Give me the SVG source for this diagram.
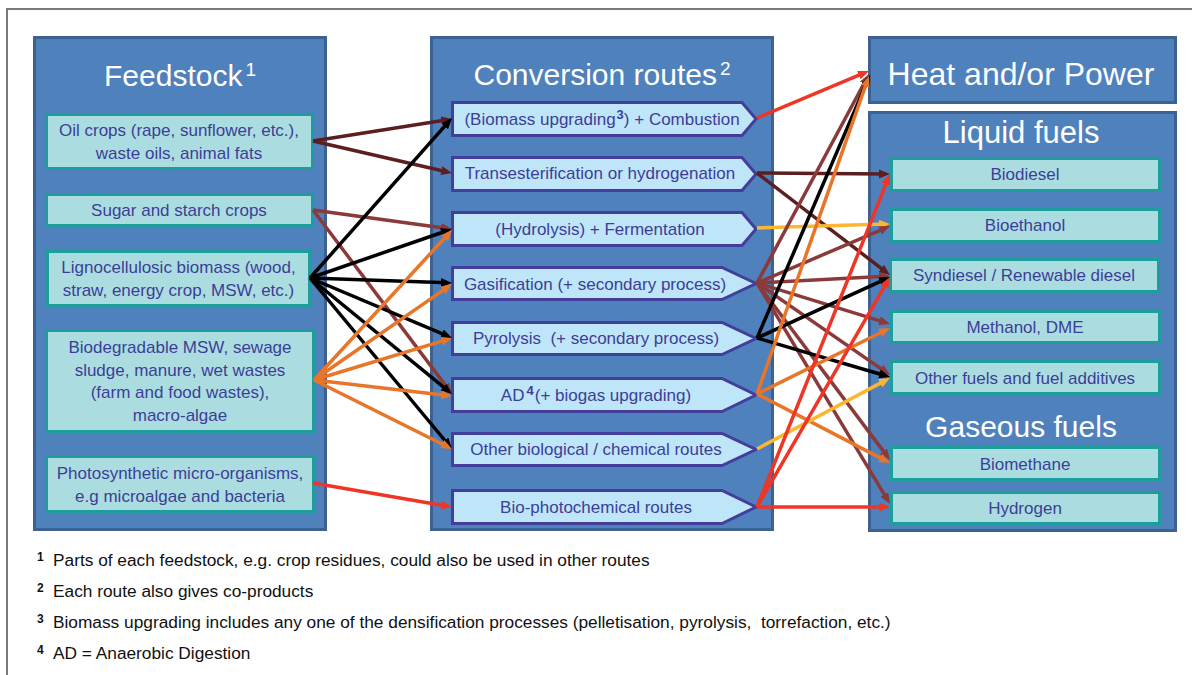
<svg xmlns="http://www.w3.org/2000/svg" width="1192" height="675" viewBox="0 0 1192 675">
<defs>
<style>
.frame{fill:#fff;stroke:#7a7a7a;stroke-width:2}
.panel{fill:#4f81bd;stroke:#3d6191;stroke-width:3}
.title{font-family:"Liberation Sans",Arial,sans-serif;fill:#fff;text-anchor:middle;font-size:30px}
.box{fill:#abdde0;stroke:#1d9e9c;stroke-width:3}
.route{fill:#bfe6f8;stroke:#433d9c;stroke-width:3;stroke-linejoin:miter}
.lbl{font-family:"Liberation Sans",Arial,sans-serif;font-size:17px;fill:#3d3d98;text-anchor:middle}
.sup{font-size:13px;font-weight:bold}
.note{font-family:"Liberation Sans",Arial,sans-serif;font-size:17.3px;fill:#111}
.nsup{font-family:"Liberation Sans",Arial,sans-serif;font-size:12px;font-weight:bold;fill:#111}
.c{fill:none;stroke-width:3.5}
.k{stroke:#000;marker-end:url(#ak)}
.m{stroke:#5c1f1f;marker-end:url(#am)}
.b{stroke:#8b3a3a;marker-end:url(#ab)}
.o{stroke:#e87528;marker-end:url(#ao)}
.r{stroke:#ee3526;marker-end:url(#ar)}
.y{stroke:#fbb733;marker-end:url(#ay)}
</style>
<marker id="ak" markerUnits="userSpaceOnUse" markerWidth="12" markerHeight="10" refX="6.5" refY="4.5" orient="auto"><path d="M0,0 L11,4.5 L0,9 z" fill="#000"/></marker>
<marker id="am" markerUnits="userSpaceOnUse" markerWidth="12" markerHeight="10" refX="6.5" refY="4.5" orient="auto"><path d="M0,0 L11,4.5 L0,9 z" fill="#5c1f1f"/></marker>
<marker id="ab" markerUnits="userSpaceOnUse" markerWidth="12" markerHeight="10" refX="6.5" refY="4.5" orient="auto"><path d="M0,0 L11,4.5 L0,9 z" fill="#8b3a3a"/></marker>
<marker id="ao" markerUnits="userSpaceOnUse" markerWidth="12" markerHeight="10" refX="6.5" refY="4.5" orient="auto"><path d="M0,0 L11,4.5 L0,9 z" fill="#e87528"/></marker>
<marker id="ar" markerUnits="userSpaceOnUse" markerWidth="12" markerHeight="10" refX="6.5" refY="4.5" orient="auto"><path d="M0,0 L11,4.5 L0,9 z" fill="#ee3526"/></marker>
<marker id="ay" markerUnits="userSpaceOnUse" markerWidth="12" markerHeight="10" refX="6.5" refY="4.5" orient="auto"><path d="M0,0 L11,4.5 L0,9 z" fill="#fbb733"/></marker>
</defs>

<rect class="frame" x="7" y="9" width="1200" height="700"/>

<g id="panel-feedstock">
<rect class="panel" x="34.5" y="37.5" width="291" height="492"/>
<text class="title" x="180" y="86">Feedstock<tspan font-size="19" dx="3" dy="-10">1</tspan></text>
</g>
<g id="panel-conversion">
<rect class="panel" x="431.5" y="37.5" width="341" height="492"/>
<text class="title" x="602" y="85">Conversion routes<tspan font-size="19" dx="3" dy="-10">2</tspan></text>
</g>
<g id="panel-heat-power">
<rect class="panel" x="869.5" y="37.5" width="306" height="65"/>
<text class="title" x="1021" y="85" style="font-size:32px">Heat and/or Power</text>
</g>
<g id="panel-fuels">
<rect class="panel" x="869.5" y="112.5" width="306" height="418"/>
<text class="title" x="1021" y="143" style="font-size:31px">Liquid fuels</text>
<text class="title" x="1021" y="437">Gaseous fuels</text>
</g>

<g id="fs-oil">
<rect class="box" x="46.5" y="114.5" width="266" height="54"/>
<text class="lbl" x="179" y="136">Oil crops (rape, sunflower, etc.),</text>
<text class="lbl" x="179" y="159">waste oils, animal fats</text>
</g>
<g id="fs-sugar">
<rect class="box" x="46.5" y="194.5" width="266" height="31"/>
<text class="lbl" x="179" y="216">Sugar and starch crops</text>
</g>
<g id="fs-ligno">
<rect class="box" x="47.5" y="251.5" width="262" height="54"/>
<text class="lbl" x="178.5" y="273">Lignocellulosic biomass (wood,</text>
<text class="lbl" x="178.5" y="296">straw, energy crop, MSW, etc.)</text>
</g>
<g id="fs-biodeg">
<rect class="box" x="46.5" y="330.5" width="267" height="101"/>
<text class="lbl" x="180" y="353">Biodegradable MSW, sewage</text>
<text class="lbl" x="180" y="376">sludge, manure, wet wastes</text>
<text class="lbl" x="180" y="398">(farm and food wastes),</text>
<text class="lbl" x="180" y="421">macro-algae</text>
</g>
<g id="fs-photo">
<rect class="box" x="46.5" y="456.5" width="267" height="55"/>
<text class="lbl" x="180" y="479">Photosynthetic micro-organisms,</text>
<text class="lbl" x="180" y="502">e.g microalgae and bacteria</text>
</g>

<g id="rt-combustion">
<polygon class="route" points="452.5,102.5 742,102.5 756,119 742,135.5 452.5,135.5"/>
<text class="lbl" x="602" y="125">(Biomass upgrading<tspan class="sup" dx="1" dy="-6">3</tspan><tspan dy="6">) + Combustion</tspan></text>
</g>
<g id="rt-transest">
<polygon class="route" points="452.5,157.5 742,157.5 756,174 742,190.5 452.5,190.5"/>
<text class="lbl" x="600" y="179">Transesterification or hydrogenation</text>
</g>
<g id="rt-ferment">
<polygon class="route" points="452.5,212.5 742,212.5 756,229 742,245.5 452.5,245.5"/>
<text class="lbl" x="600" y="235">(Hydrolysis) + Fermentation</text>
</g>
<g id="rt-gasif">
<polygon class="route" points="452.5,267.5 722,267.5 756,283.5 722,299.5 452.5,299.5"/>
<text class="lbl" x="595" y="290">Gasification (+ secondary process)</text>
</g>
<g id="rt-pyro">
<polygon class="route" points="452.5,322.5 722,322.5 756,338.5 722,354.5 452.5,354.5"/>
<text class="lbl" x="596" y="344" xml:space="preserve">Pyrolysis  (+ secondary process)</text>
</g>
<g id="rt-ad">
<polygon class="route" points="452.5,378.5 722,378.5 756,395 722,411.5 452.5,411.5"/>
<text class="lbl" x="596" y="401">AD<tspan class="sup" dx="2" dy="-6">4</tspan><tspan dx="1" dy="6">(+ biogas upgrading)</tspan></text>
</g>
<g id="rt-otherbio">
<polygon class="route" points="452.5,433.5 722,433.5 756,449.5 722,465.5 452.5,465.5"/>
<text class="lbl" x="596" y="455">Other biological / chemical routes</text>
</g>
<g id="rt-photochem">
<polygon class="route" points="452.5,490.5 722,490.5 756,507 722,523.5 452.5,523.5"/>
<text class="lbl" x="596" y="513">Bio-photochemical routes</text>
</g>

<g id="fu-biodiesel">
<rect class="box" x="891.5" y="158.5" width="268" height="32"/>
<text class="lbl" x="1025" y="180">Biodiesel</text>
</g>
<g id="fu-bioethanol">
<rect class="box" x="891.5" y="209.5" width="268" height="32"/>
<text class="lbl" x="1025" y="231">Bioethanol</text>
</g>
<g id="fu-syndiesel">
<rect class="box" x="890.5" y="259.5" width="268" height="32"/>
<text class="lbl" x="1024" y="281">Syndiesel / Renewable diesel</text>
</g>
<g id="fu-methanol">
<rect class="box" x="891.5" y="311.5" width="268" height="31"/>
<text class="lbl" x="1025" y="333">Methanol, DME</text>
</g>
<g id="fu-other">
<rect class="box" x="891.5" y="361.5" width="268" height="32"/>
<text class="lbl" x="1025" y="384">Other fuels and fuel additives</text>
</g>
<g id="fu-biomethane">
<rect class="box" x="891.5" y="447.5" width="268" height="32"/>
<text class="lbl" x="1025" y="470">Biomethane</text>
</g>
<g id="fu-hydrogen">
<rect class="box" x="891.5" y="492.5" width="268" height="31"/>
<text class="lbl" x="1025" y="514">Hydrogen</text>
</g>

<g id="connectors">
<line class="c m" x1="313" y1="141" x2="447.6" y2="119.7"/>
<line class="c m" x1="313" y1="141" x2="447.6" y2="172"/>
<line class="c b" x1="313" y1="210" x2="447.5" y2="228.4"/>
<line class="c b" x1="313" y1="210" x2="449.3" y2="390.4"/>
<line class="c k" x1="310" y1="278" x2="449" y2="121.4"/>
<line class="c k" x1="310" y1="278" x2="447.7" y2="230.5"/>
<line class="c k" x1="310" y1="278" x2="447.5" y2="282.8"/>
<line class="c k" x1="310" y1="278" x2="447.9" y2="336.2"/>
<line class="c k" x1="310" y1="278" x2="448.5" y2="391.2"/>
<line class="c k" x1="310" y1="278" x2="449.1" y2="445.5"/>
<line class="c o" x1="314" y1="380" x2="449" y2="233.3"/>
<line class="c o" x1="314" y1="380" x2="448.3" y2="286.6"/>
<line class="c o" x1="314" y1="380" x2="447.7" y2="339.3"/>
<line class="c o" x1="314" y1="380" x2="447.5" y2="395.5"/>
<line class="c o" x1="314" y1="380" x2="448" y2="447"/>
<line class="c r" x1="313" y1="483" x2="447.6" y2="506.2"/>

<line class="c r" x1="757" y1="118" x2="864.9" y2="72.7"/>
<line class="c m" x1="757" y1="173" x2="885.5" y2="174"/>
<line class="c m" x1="757" y1="173" x2="886.4" y2="272.3"/>
<line class="c y" x1="757" y1="228" x2="885.5" y2="224.1"/>
<line class="c b" x1="757" y1="283" x2="866.9" y2="78"/>
<line class="c b" x1="757" y1="283" x2="885.9" y2="227.8"/>
<line class="c b" x1="757" y1="283" x2="885.5" y2="276.2"/>
<line class="c b" x1="757" y1="283" x2="885.7" y2="322.7"/>
<line class="c b" x1="757" y1="283" x2="886.3" y2="372.4"/>
<line class="c b" x1="757" y1="283" x2="887.3" y2="456.4"/>
<line class="c b" x1="757" y1="283" x2="887.7" y2="500.1"/>
<line class="c k" x1="757" y1="338" x2="868.2" y2="79.1"/>
<line class="c k" x1="757" y1="338" x2="885.9" y2="278.9"/>
<line class="c k" x1="757" y1="338" x2="885.7" y2="375.7"/>
<line class="c o" x1="757" y1="394" x2="867.5" y2="80.2"/>
<line class="c o" x1="757" y1="394" x2="886" y2="330"/>
<line class="c o" x1="757" y1="394" x2="886" y2="460.9"/>
<line class="c y" x1="757" y1="449" x2="886" y2="380.1"/>
<line class="c r" x1="757" y1="507" x2="888.3" y2="178.2"/>
<line class="c r" x1="757" y1="507" x2="887.7" y2="280.9"/>
<line class="c r" x1="757" y1="507" x2="885.5" y2="507"/>
</g>

<g id="footnotes">
<text class="nsup" x="37" y="561">1</text>
<text class="note" x="53" y="566">Parts of each feedstock, e.g. crop residues, could also be used in other routes</text>
<text class="nsup" x="37" y="592">2</text>
<text class="note" x="53" y="597">Each route also gives co-products</text>
<text class="nsup" x="37" y="623">3</text>
<text class="note" x="53" y="628" xml:space="preserve">Biomass upgrading includes any one of the densification processes (pelletisation, pyrolysis,  torrefaction, etc.)</text>
<text class="nsup" x="37" y="654">4</text>
<text class="note" x="53" y="659">AD = Anaerobic Digestion</text>
</g>
</svg>
